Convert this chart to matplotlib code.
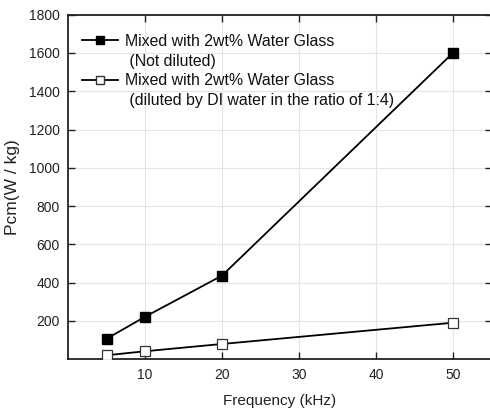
import matplotlib
matplotlib.use("Agg")
import matplotlib.pyplot as plt
from matplotlib.lines import Line2D

plt.rcParams['font.family'] = ['Liberation Sans', 'DejaVu Sans']

# data
freq = [5, 10, 20, 50]
pcm_not_diluted = [107, 222, 437, 1600]
pcm_diluted = [21, 42, 80, 191]
label_a = ["Mixed with 2wt% Water Glass", " (Not diluted)"]
label_b = ["Mixed with 2wt% Water Glass", " (diluted by DI water in the ratio of 1:4)"]
xticks = [10, 20, 30, 40, 50]
yticks = [200, 400, 600, 800, 1000, 1200, 1400, 1600, 1800]

fig = plt.figure(figsize=(4.9, 4.12), dpi=100)
ax = fig.add_axes([68 / 490, 1 - 359.3 / 412, (491.5 - 68) / 490, (359.3 - 14.6) / 412])

ax.plot(freq, pcm_not_diluted, color='black', lw=1.3, marker='s', ms=7,
        mfc='black', mec='black', zorder=3)
ax.plot(freq, pcm_diluted, color='black', lw=1.3, marker='s', ms=7,
        mfc='white', mec='#333333', mew=0.9, zorder=3)

ax.set_xlim(0, 55)
ax.set_ylim(0, 1800)
ax.set_xticks(xticks)
ax.set_yticks(yticks)
ax.grid(True, color='#e4e4e4', lw=0.8)
ax.set_axisbelow(True)
ax.tick_params(direction='in', top=True, right=True, length=5, width=1,
               labelsize=10, colors='#222222', pad=6)
for s in ax.spines.values():
    s.set_linewidth(1.3)
    s.set_color('#222222')

ax.set_xlabel("Frequency (kHz)", fontsize=11, labelpad=9, color='#222222')
ax.set_ylabel("Pcm(W / kg)", fontsize=12.5, labelpad=6, color='#222222')

blank = Line2D([], [], color='none')
h_a = Line2D([], [], color='black', lw=1.3, marker='s', ms=6, mfc='black', mec='black')
h_b = Line2D([], [], color='black', lw=1.3, marker='s', ms=6, mfc='white', mec='#333333')
leg = ax.legend([h_a, blank, h_b, blank],
                [label_a[0], label_a[1], label_b[0], label_b[1]],
                loc='upper left', bbox_to_anchor=(-0.005, 0.99), frameon=False,
                fontsize=11.4, handlelength=2.3, handletextpad=0.45,
                labelspacing=0.3, borderaxespad=0.6)
for t in leg.get_texts():
    t.set_color('#111111')

fig.savefig("out.png", dpi=100)
